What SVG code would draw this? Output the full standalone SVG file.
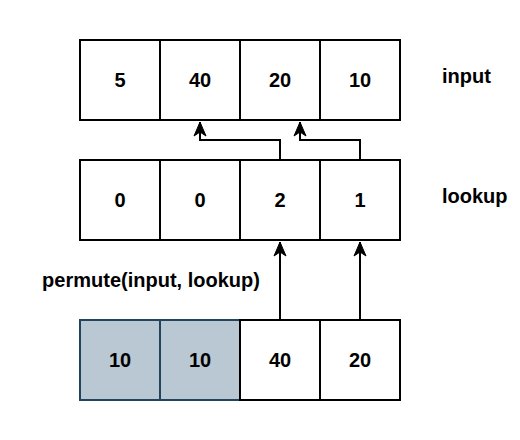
<svg xmlns="http://www.w3.org/2000/svg" width="520" height="440" viewBox="0 0 520 440">
<defs>
<style>
.b{fill:#ffffff;stroke:#000000;stroke-width:2}
.h{fill:#bac8d3;stroke:#23445d;stroke-width:2}
.t{font-family:"Liberation Sans",Arial,sans-serif;font-size:20px;font-weight:bold;fill:#000000;text-anchor:middle}
.l{font-family:"Liberation Sans",Arial,sans-serif;font-size:20px;font-weight:bold;fill:#000000}
</style>
<marker id="m" viewBox="0 0 16 14" refX="15" refY="7" markerWidth="16" markerHeight="14" markerUnits="userSpaceOnUse" orient="auto">
<path d="M1,1 L15,7 L1,13 L5,7 Z" fill="#000000" stroke="#000000" stroke-width="1"/>
</marker>
</defs>
<rect width="520" height="440" fill="#ffffff"/>
<g id="input-row">
<g id="in0"><rect class="b" x="80" y="40" width="80" height="80"/><text class="t" x="120" y="87.2">5</text></g>
<g id="in1"><rect class="b" x="160" y="40" width="80" height="80"/><text class="t" x="200" y="87.2">40</text></g>
<g id="in2"><rect class="b" x="240" y="40" width="80" height="80"/><text class="t" x="280" y="87.2">20</text></g>
<g id="in3"><rect class="b" x="320" y="40" width="80" height="80"/><text class="t" x="360" y="87.2">10</text></g>
</g>
<g id="lookup-row">
<g id="lk0"><rect class="b" x="80" y="160" width="80" height="80"/><text class="t" x="120" y="207.2">0</text></g>
<g id="lk1"><rect class="b" x="160" y="160" width="80" height="80"/><text class="t" x="200" y="207.2">0</text></g>
<g id="lk2"><rect class="b" x="240" y="160" width="80" height="80"/><text class="t" x="280" y="207.2">2</text></g>
<g id="lk3"><rect class="b" x="320" y="160" width="80" height="80"/><text class="t" x="360" y="207.2">1</text></g>
</g>
<g id="output-row">
<g id="out0"><rect class="h" x="80" y="320" width="80" height="80"/><text class="t" x="120" y="367.2">10</text></g>
<g id="out1"><rect class="h" x="160" y="320" width="80" height="80"/><text class="t" x="200" y="367.2">10</text></g>
<g id="out2"><rect class="b" x="240" y="320" width="80" height="80"/><text class="t" x="280" y="367.2">40</text></g>
<g id="out3"><rect class="b" x="320" y="320" width="80" height="80"/><text class="t" x="360" y="367.2">20</text></g>
</g>
<g id="connectors" fill="none" stroke="#000000" stroke-width="2">
<path d="M280,160 V140 H200 V122" marker-end="url(#m)"/>
<path d="M360,160 V140 H300 V122" marker-end="url(#m)"/>
<path d="M280,320 V242" marker-end="url(#m)"/>
<path d="M360,320 V242" marker-end="url(#m)"/>
</g>
<g id="labels">
<text class="l" x="442" y="83">input</text>
<text class="l" x="442" y="203">lookup</text>
<text class="t" x="151" y="286.5">permute(input, lookup)</text>
</g>
</svg>
